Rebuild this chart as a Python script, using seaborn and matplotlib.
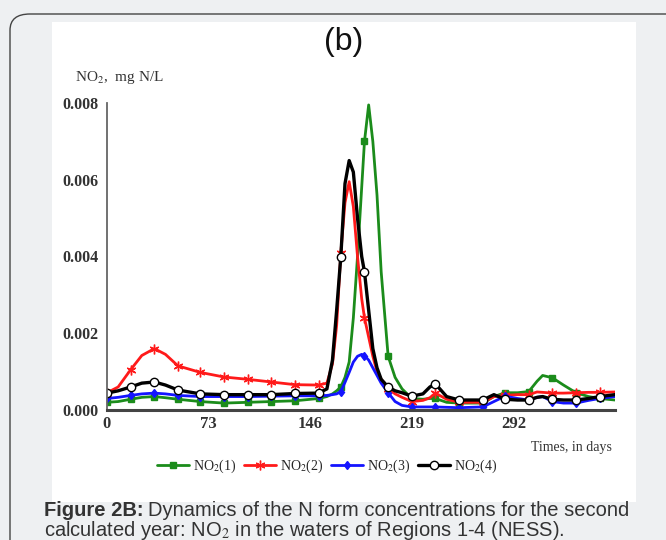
import numpy as np
import pandas as pd
import matplotlib
matplotlib.use("Agg")
import matplotlib.pyplot as plt
import seaborn as sns
from matplotlib.patches import FancyBboxPatch, Rectangle

# time grid (days) and NO2 concentrations in 10^-3 mg N/L
days = [0, 8, 17, 25, 34, 42, 51, 67, 84, 101, 118, 135, 152, 158, 162, 165, 168, 171, 174,
        177, 180, 183, 185, 188, 191, 194, 197, 202, 207, 212, 219, 227, 232, 236, 244, 253,
        270, 278, 286, 295, 303, 309, 313, 320, 328, 337, 346, 354, 365]
marker_days = [0, 17, 34, 51, 67, 84, 101, 118, 135, 152, 168, 185, 202, 219, 236, 253,
               270, 286, 303, 320, 337, 354]

no2_1 = [0.20, 0.22, 0.28, 0.33, 0.35, 0.32, 0.28, 0.22, 0.18, 0.20, 0.22, 0.24, 0.30, 0.35,
         0.42, 0.50, 0.60, 0.85, 1.25, 2.4, 4.0, 5.8, 7.0, 7.95, 7.0, 5.6, 3.6, 1.4, 0.85,
         0.55, 0.30, 0.28, 0.30, 0.30, 0.20, 0.18, 0.18, 0.35, 0.45, 0.45, 0.48, 0.75, 0.90,
         0.84, 0.65, 0.45, 0.35, 0.30, 0.26]
no2_2 = [0.45, 0.60, 1.05, 1.42, 1.60, 1.45, 1.15, 0.98, 0.86, 0.80, 0.73, 0.66, 0.65, 0.70,
         1.2, 2.2, 4.1, 5.4, 5.95, 5.3, 4.0, 2.9, 2.4, 1.9, 1.4, 1.0, 0.8, 0.55, 0.42, 0.33,
         0.22, 0.25, 0.32, 0.44, 0.28, 0.20, 0.20, 0.35, 0.38, 0.40, 0.40, 0.47, 0.46, 0.44,
         0.44, 0.45, 0.46, 0.46, 0.47]
no2_3 = [0.30, 0.33, 0.38, 0.42, 0.44, 0.42, 0.38, 0.35, 0.35, 0.35, 0.36, 0.37, 0.37, 0.38,
         0.40, 0.42, 0.48, 0.72, 0.98, 1.25, 1.40, 1.45, 1.42, 1.30, 1.10, 0.90, 0.70, 0.45,
         0.22, 0.12, 0.08, 0.08, 0.08, 0.08, 0.07, 0.06, 0.08, 0.22, 0.36, 0.30, 0.26, 0.33,
         0.35, 0.22, 0.18, 0.18, 0.25, 0.30, 0.35]
no2_4 = [0.44, 0.50, 0.60, 0.70, 0.73, 0.65, 0.52, 0.42, 0.40, 0.40, 0.40, 0.43, 0.44, 0.55,
         1.3, 2.6, 4.0, 5.9, 6.5, 6.2, 5.0, 4.0, 3.6, 2.6, 1.6, 1.1, 0.8, 0.60, 0.50, 0.45,
         0.36, 0.42, 0.60, 0.68, 0.35, 0.26, 0.26, 0.40, 0.28, 0.26, 0.26, 0.33, 0.35, 0.28,
         0.26, 0.26, 0.30, 0.35, 0.40]

labels = ["NO$_2$(1)", "NO$_2$(2)", "NO$_2$(3)", "NO$_2$(4)"]
xticks = [0, 73, 146, 219, 292]
yticks = [0.0, 0.002, 0.004, 0.006, 0.008]

sns.set_style("white")
plt.rcParams['font.family'] = ['Liberation Serif', 'DejaVu Serif']
plt.rcParams['mathtext.fontset'] = 'stix'

fig = plt.figure(figsize=(6.66, 5.4), dpi=100, facecolor='#eef0f2')
W, H = 666, 540

# rounded frame and white panel
frame = FancyBboxPatch((10 / W, -20 / H), 720 / W, 546 / H,
                       boxstyle="round,pad=0,rounding_size=0.03",
                       transform=fig.transFigure, facecolor='#eef0f2',
                       edgecolor='#444444', lw=1.0, zorder=0)
fig.patches.append(frame)
panel = Rectangle((52 / W, 1 - 502 / H), 584 / W, 480 / H, transform=fig.transFigure,
                  facecolor='white', edgecolor='none', zorder=1)
fig.patches.append(panel)

ax = fig.add_axes([107 / W, 1 - 410 / H, 508 / W, 307 / H])
ax.set_zorder(3)
ax.set_facecolor('none')

d = np.array(days)
mask = np.isin(d, marker_days)
styles = [
    (no2_1, '#1b8c1b', 's', 4, '#1b8c1b', 2.0),
    (no2_2, '#ff1a1a', (6, 2, 0), 7, '#ff1a1a', 2.0),
    (no2_3, '#1414ff', 'd', 4.5, '#1414ff', 2.0),
    (no2_4, '#000000', 'o', 6, 'white', 2.4),
]
for (vals, col, mk, ms, mfc, lw), lab in zip(styles, labels):
    df = pd.DataFrame({'day': d, 'val': np.array(vals) * 1e-3})
    sns.lineplot(x='day', y='val', data=df, ax=ax, color=col, lw=lw, marker=mk,
                 markersize=ms, markerfacecolor=mfc, markeredgecolor=col,
                 markeredgewidth=1.0, markevery=list(mask), label=lab)

ax.set_xlim(0, 365)
ax.set_ylim(0, 0.008)
ax.set_xticks(xticks)
ax.set_yticks(yticks)
ax.set_yticklabels(['%.3f' % v for v in yticks])
ax.set_xlabel('')
ax.set_ylabel('')
for s in ['top', 'right']:
    ax.spines[s].set_visible(False)
ax.spines['left'].set_color('#666666')
ax.spines['left'].set_linewidth(1.3)
ax.spines['bottom'].set_color('#444444')
ax.spines['bottom'].set_linewidth(2.2)
ax.tick_params(axis='y', direction='out', length=3, color='#666666', labelsize=11.5,
               labelcolor='#333333', pad=3)
ax.tick_params(axis='x', direction='in', length=3, color='#444444', labelsize=12,
               labelcolor='#333333', pad=4)
for t in ax.get_xticklabels() + ax.get_yticklabels():
    t.set_fontweight('bold')

ax.legend(loc='center', bbox_to_anchor=(327 / W, 1 - 466 / H), bbox_transform=fig.transFigure,
          ncol=4, frameon=False, fontsize=10, handlelength=2.3, columnspacing=0.6,
          handletextpad=0.25)

fig.text(75 / W, 1 - 78 / H, 'NO$_2$,  mg N/L', fontsize=11, color='#333333', va='center')
fig.text(612 / W, 1 - 448 / H, 'Times, in days', fontsize=10, color='#333333',
         ha='right', va='center')
fig.text(344 / W, 1 - 42 / H, '(b)', fontsize=23, color='#111111', ha='center', va='center',
         family='Liberation Sans')

cap = fig.text(44 / W, 1 - 510 / H, 'Figure 2B:', fontsize=14.5, fontweight='bold',
               color='#333333', family='Liberation Sans', va='center')
fig.canvas.draw()
cap_w = cap.get_window_extent().width
fig.text((44 + cap_w + 4) / W, 1 - 510 / H, 'Dynamics of the N form concentrations for the second',
         fontsize=14.5, color='#333333', family='Liberation Sans', va='center')
fig.text(44 / W, 1 - 530 / H, 'calculated year: NO$_2$ in the waters of Regions 1-4 (NESS).',
         fontsize=14.5, color='#333333', family='Liberation Sans', va='center')

fig.savefig('out.png', dpi=100, facecolor=fig.get_facecolor())
